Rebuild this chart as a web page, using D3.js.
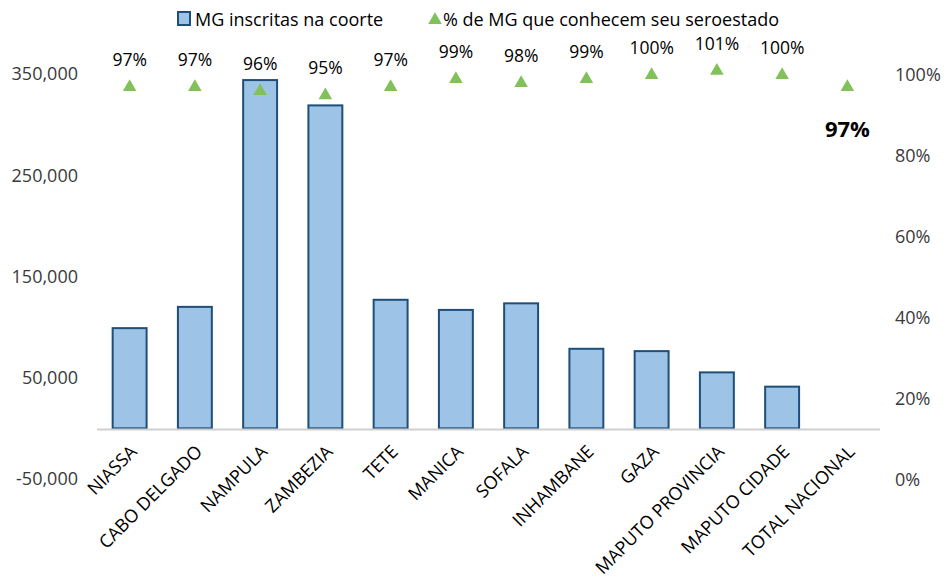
<!DOCTYPE html>
<html>
<head>
<meta charset="utf-8">
<script src="https://cdn.jsdelivr.net/npm/d3@7/dist/d3.min.js"></script>
<style>
  html, body { margin: 0; padding: 0; background: #fff; }
  svg { display: block; font-family: "Open Sans", "Liberation Sans", sans-serif; }
</style>
</head>
<body>
<svg id="chart" width="949" height="579"></svg>
<script>
// Provinces of Mozambique plus the national total
const categories = ["NIASSA", "CABO DELGADO", "NAMPULA", "ZAMBEZIA", "TETE", "MANICA",
  "SOFALA", "INHAMBANE", "GAZA", "MAPUTO PROVINCIA", "MAPUTO CIDADE", "TOTAL NACIONAL"];
// Pregnant women enrolled in the cohort (no bar for the national total)
const enrolled = [99000, 120000, 344000, 319000, 127000, 117000, 123500, 78600, 76300, 55300, 41200, null];
// Share of pregnant women who know their serostatus
const knowStatus = [0.97, 0.97, 0.96, 0.95, 0.97, 0.99, 0.98, 0.99, 1.00, 1.01, 1.00, 0.97];
const leftTicks = [-50000, 50000, 150000, 250000, 350000];
const rightTicks = [0, 0.2, 0.4, 0.6, 0.8, 1.0];

const svg = d3.select("#chart");
const plot = { left: 97, right: 880, top: 74, bottom: 479 };

const x = d3.scaleBand().domain(categories).range([plot.left, plot.right]).paddingInner(0.48).paddingOuter(0.24);
const yL = d3.scaleLinear().domain([-50000, 350000]).range([plot.bottom, plot.top]);
const yR = d3.scaleLinear().domain([0, 1]).range([plot.bottom + 1, plot.top + 1]);

const textColor = "#3a3a3a";
const locale = d3.formatLocale({ decimal: ".", thousands: ",", grouping: [3], currency: ["", ""], minus: "-" });
const fmtNum = locale.format(",");
const fmtPct = locale.format(".0%");

// Left axis (labels only)
const gL = svg.append("g").attr("transform", `translate(${plot.left - 16},0)`)
  .call(d3.axisLeft(yL).tickValues(leftTicks).tickFormat(fmtNum).tickSize(0));
gL.select(".domain").remove();
gL.selectAll("text").attr("fill", textColor).attr("font-size", 18).attr("font-family", "Open Sans");

// Right axis (labels only)
const gR = svg.append("g").attr("transform", `translate(${plot.right + 12},0)`)
  .call(d3.axisRight(yR).tickValues(rightTicks).tickFormat(fmtPct).tickSize(0));
gR.select(".domain").remove();
gR.selectAll("text").attr("fill", textColor).attr("font-size", 18).attr("font-family", "Open Sans");

// Bars
svg.append("g").selectAll("rect")
  .data(categories.map((c, i) => ({ c, v: enrolled[i] })).filter(d => d.v != null))
  .join("rect")
  .attr("x", d => x(d.c))
  .attr("width", x.bandwidth())
  .attr("y", d => yL(d.v))
  .attr("height", d => yL(0) - yL(d.v))
  .attr("fill", "#9dc3e6")
  .attr("stroke", "#1f4e79")
  .attr("stroke-width", 2);

// Category axis at zero
svg.append("line")
  .attr("x1", plot.left).attr("x2", plot.right)
  .attr("y1", yL(0) + 1).attr("y2", yL(0) + 1)
  .attr("stroke", "#d0d0d0").attr("stroke-width", 2);

// Rotated category labels
svg.append("g").selectAll("text")
  .data(categories)
  .join("text")
  .attr("transform", d => `translate(${x(d) + x.bandwidth() / 2 + 4},${yL(0) + 20}) rotate(-45)`)
  .attr("text-anchor", "end")
  .attr("dy", "0.35em")
  .attr("fill", "#000")
  .attr("font-size", 18)
  .text(d => d);

// Triangle markers for the percentage series
const tri = d3.symbol().type(d3.symbolTriangle).size(80);
const pts = categories.map((c, i) => ({ c, v: knowStatus[i], i }));
svg.append("g").selectAll("path")
  .data(pts)
  .join("path")
  .attr("d", tri)
  .attr("transform", d => `translate(${x(d.c) + x.bandwidth() / 2},${yR(d.v)})`)
  .attr("fill", "#82c05a");

// Percentage labels: above the markers, bold below for the national total
svg.append("g").selectAll("text")
  .data(pts)
  .join("text")
  .attr("x", d => x(d.c) + x.bandwidth() / 2)
  .attr("y", d => d.c === "TOTAL NACIONAL" ? yR(d.v) + 50 : yR(d.v) - 21)
  .attr("text-anchor", "middle")
  .attr("fill", "#000")
  .attr("font-size", d => d.c === "TOTAL NACIONAL" ? 22 : 17.5)
  .attr("font-weight", d => d.c === "TOTAL NACIONAL" ? "bold" : "normal")
  .text(d => fmtPct(d.v));

// Legend
const lg = svg.append("g");
lg.append("rect").attr("x", 178).attr("y", 12).attr("width", 12).attr("height", 13)
  .attr("fill", "#9dc3e6").attr("stroke", "#1f4e79").attr("stroke-width", 2);
lg.append("text").attr("x", 195).attr("y", 26).attr("font-size", 18).attr("fill", "#000")
  .text("MG inscritas na coorte");
lg.append("path").attr("d", tri).attr("transform", "translate(435,20)").attr("fill", "#82c05a");
lg.append("text").attr("x", 443).attr("y", 26).attr("font-size", 18).attr("fill", "#000")
  .text("% de MG que conhecem seu seroestado");
</script>
</body>
</html>
